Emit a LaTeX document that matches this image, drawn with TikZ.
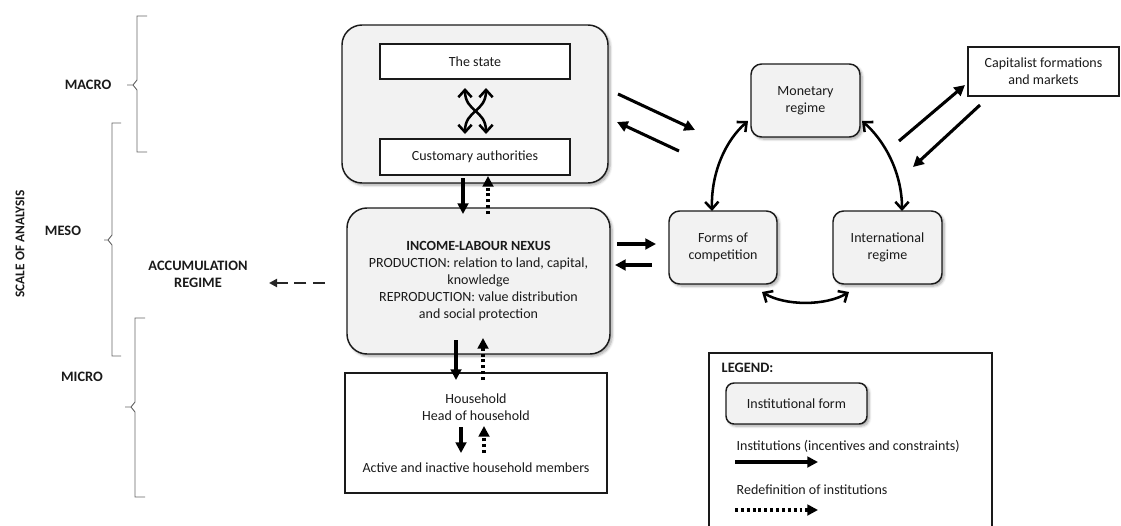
\documentclass[tikz,border=0pt]{standalone}
\usepackage{fontspec}
\setmainfont{Carlito}
\usetikzlibrary{arrows.meta,shadows.blur}
\definecolor{boxfill}{HTML}{F2F2F2}
\definecolor{ink}{HTML}{1A1A1A}
\tikzset{
  inst/.style={draw=ink, line width=1.1pt, fill=boxfill, rounded corners=#1, align=center,
    blur shadow={shadow xshift=1.6pt, shadow yshift=-1.6pt, shadow blur steps=6, shadow opacity=35}},
  inst/.default=10pt,
  plainbox/.style={draw=ink, line width=0.9pt, fill=white, align=center},
  txt/.style={font=\fontsize{10.5}{12.8}\selectfont, text=ink},
  lbl/.style={font=\fontsize{10.8}{12.8}\selectfont\bfseries, text=ink, align=center},
  brace/.style={draw=gray!80!black, line width=0.7pt},
  sol/.style={draw=black, line width=2.3pt, -{Triangle[length=8pt,width=8pt]}},
  dotarr/.style={draw=black, line width=2.3pt, dash pattern=on 2.2pt off 2.2pt, -{Triangle[length=8pt,width=8pt]}},
  dasharr/.style={draw=black!85, line width=1.8pt, dash pattern=on 9pt off 5pt, -{Triangle[length=6pt,width=6pt]}},
  curv/.style={draw=black, line width=1.9pt, {Straight Barb[length=5.5pt,width=10pt,line width=1.9pt]}-{Straight Barb[length=5.5pt,width=10pt,line width=1.9pt]}},
}
\begin{document}
\begin{tikzpicture}[x=0.75pt,y=-0.75pt]
\useasboundingbox (0,0) rectangle (1121,525);

% brackets
\draw[brace] (147,16) -- (137,16) -- (137,80) -- (133,85) -- (127,85);
\draw[brace] (133,85) -- (137,90) -- (137,152) -- (147,152);
\draw[brace] (121,123) -- (112,123) -- (112,235) -- (108,240) -- (104,240);
\draw[brace] (108,240) -- (112,245) -- (112,356) -- (121,356);
\draw[brace] (145,318) -- (135,318) -- (135,402) -- (131,407) -- (125,407);
\draw[brace] (131,407) -- (135,412) -- (135,497) -- (145,497);

\node[lbl] (macro) at (88,85) {MACRO};
\node[lbl] (meso) at (63,231) {MESO};
\node[lbl] (micro) at (82,377) {MICRO};
\node[lbl, font=\fontsize{10}{12}\selectfont\bfseries, rotate=90] (scale) at (20,244) {SCALE OF ANALYSIS};
\node[lbl] (accum) at (198,274) {ACCUMULATION\\REGIME};

% state box
\node[inst=15pt, minimum width=266*0.75pt, minimum height=158*0.75pt] (outer) at (475,104) {};
\node[plainbox, txt, minimum width=190*0.75pt, minimum height=35*0.75pt] (state) at (475,61.5) {The state};
\node[plainbox, txt, minimum width=190*0.75pt, minimum height=36*0.75pt] (cust) at (475,157) {Customary authorities};

% crossed arrows
\coordinate (xa1) at (465,88); \coordinate (xa2) at (486,134);
\coordinate (xb1) at (486,88); \coordinate (xb2) at (465,134);
\draw[curv] (xa1) .. controls (465,112) and (486,110) .. (xa2);
\draw[curv] (xb1) .. controls (486,112) and (465,110) .. (xb2);

% income box
\node[inst=15pt, txt, minimum width=263*0.75pt, minimum height=146*0.75pt] (income) at (478.5,281)
  {\textbf{INCOME-LABOUR NEXUS}\\PRODUCTION: relation to land, capital,\\knowledge\\REPRODUCTION: value distribution\\and social protection};

% household box
\node[plainbox, minimum width=262*0.75pt, minimum height=120*0.75pt] (house) at (476,433) {};
\node[txt, align=center] (hh1) at (476,407) {Household\\Head of household};
\node[txt] (hh2) at (476,468) {Active and inactive household members};

% vertical arrows
\coordinate (v1a) at (463,178); \coordinate (v1b) at (463,214);
\coordinate (v2a) at (488,214); \coordinate (v2b) at (488,176);
\draw[sol] (v1a) -- (v1b);
\draw[dotarr] (v2a) -- (v2b);
\coordinate (v3a) at (456,340); \coordinate (v3b) at (456,380);
\coordinate (v4a) at (483,380); \coordinate (v4b) at (483,338);
\draw[sol] (v3a) -- (v3b);
\draw[dotarr] (v4a) -- (v4b);
\coordinate (v5a) at (461,427); \coordinate (v5b) at (461,453);
\coordinate (v6a) at (484,453); \coordinate (v6b) at (484,426);
\draw[sol] (v5a) -- (v5b);
\draw[dotarr] (v6a) -- (v6b);

% right side boxes
\node[inst=8pt, txt, minimum width=109*0.75pt, minimum height=73*0.75pt] (mon) at (805.5,100.5) {Monetary\\regime};
\node[inst=8pt, txt, minimum width=108*0.75pt, minimum height=73*0.75pt] (forms) at (723,247.5) {Forms of\\competition};
\node[inst=8pt, txt, minimum width=109*0.75pt, minimum height=73*0.75pt] (intl) at (887.5,247.5) {International\\regime};
\node[plainbox, txt, minimum width=151*0.75pt, minimum height=49*0.75pt] (capit) at (1043.5,71.5) {Capitalist formations\\and markets};

% curved links
\coordinate (c1a) at (748,121); \coordinate (c1b) at (712,211);
\coordinate (c2a) at (862,121); \coordinate (c2b) at (902,211);
\coordinate (c3a) at (762,292); \coordinate (c3b) at (849,292);
\draw[curv] (c1a) .. controls (726,140) and (711,172) .. (c1b);
\draw[curv] (c2a) .. controls (884,140) and (902,172) .. (c2b);
\draw[curv] (c3a) .. controls (785,306) and (826,306) .. (c3b);

% straight links
\coordinate (s1a) at (618,94); \coordinate (s1b) at (695,130);
\coordinate (s2a) at (679,151); \coordinate (s2b) at (617,122);
\draw[sol] (s1a) -- (s1b);
\draw[sol] (s2a) -- (s2b);
\coordinate (s3a) at (899,141); \coordinate (s3b) at (965,85);
\coordinate (s4a) at (980,105); \coordinate (s4b) at (913,167);
\draw[sol] (s3a) -- (s3b);
\draw[sol] (s4a) -- (s4b);
\coordinate (s5a) at (617,244); \coordinate (s5b) at (656,244);
\coordinate (s6a) at (652,265); \coordinate (s6b) at (615,265);
\draw[sol] (s5a) -- (s5b);
\draw[sol] (s6a) -- (s6b);
\coordinate (d1a) at (325,283); \coordinate (d1b) at (269,283);
\draw[dasharr] (d1a) -- (d1b);

% legend
\draw[draw=ink, line width=0.9pt] (709,526) -- (709,353) -- (992,353) -- (992,526);
\node[lbl, anchor=west] (leg) at (717,368) {LEGEND:};
\node[inst=6pt, txt, minimum width=141*0.75pt, minimum height=41*0.75pt] (legbox) at (796.5,403.5) {Institutional form};
\node[txt, anchor=west] (legt1) at (732,446) {Institutions (incentives and constraints)};
\coordinate (l1a) at (735,462); \coordinate (l1b) at (818,462);
\draw[sol] (l1a) -- (l1b);
\node[txt, anchor=west] (legt2) at (732,490) {Redefinition of institutions};
\coordinate (l2a) at (735,510); \coordinate (l2b) at (818,510);
\draw[dotarr] (l2a) -- (l2b);
\end{tikzpicture}
\end{document}
